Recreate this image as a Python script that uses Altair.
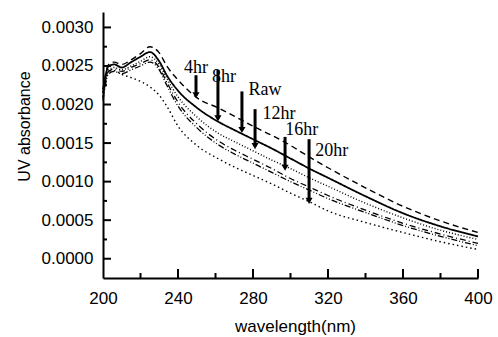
import altair as alt
import pandas as pd

# wavelength grid (nm)
wl = [200, 203, 206, 210, 215, 220, 225, 230, 234, 240, 250, 262, 270, 280,
      290, 300, 310, 320, 340, 360, 380, 400]

# UV absorbance series
abs_4hr = [0.0022, 0.00252, 0.00255, 0.00252, 0.00258, 0.00266, 0.00275, 0.00267,
           0.00250, 0.00232, 0.00209, 0.00195, 0.00185, 0.00172, 0.00160, 0.00147,
           0.00132, 0.00118, 0.00092, 0.00068, 0.00049, 0.00034]
abs_8hr = [0.00215, 0.0025, 0.00252, 0.00248, 0.00255, 0.00262, 0.00268, 0.00256,
           0.00238, 0.00218, 0.00196, 0.00177, 0.00167, 0.00155, 0.00143, 0.00130,
           0.00117, 0.00105, 0.00081, 0.00059, 0.00042, 0.00029]
abs_raw = [0.0021, 0.00245, 0.00248, 0.00245, 0.0025, 0.00256, 0.00262, 0.00252,
           0.00234, 0.00210, 0.00184, 0.00162, 0.00152, 0.0014, 0.00128, 0.00117,
           0.00105, 0.00094, 0.00072, 0.00053, 0.00037, 0.00025]
abs_12hr = [0.00208, 0.00243, 0.00246, 0.00243, 0.00248, 0.00253, 0.00258, 0.00248,
            0.00229, 0.00203, 0.00175, 0.00152, 0.00141, 0.00129, 0.00117, 0.00104,
            0.00093, 0.00082, 0.00063, 0.00046, 0.00032, 0.0002]
abs_16hr = [0.00205, 0.0024, 0.00243, 0.0024, 0.00245, 0.0025, 0.00255, 0.00245,
            0.00225, 0.00198, 0.0017, 0.00147, 0.00136, 0.00124, 0.00112, 0.001,
            0.00089, 0.00078, 0.0006, 0.00043, 0.00029, 0.00017]
abs_20hr = [0.0021, 0.00243, 0.00244, 0.00239, 0.00235, 0.00230, 0.00223, 0.00212,
            0.00198, 0.00172, 0.00147, 0.00129, 0.00119, 0.00108, 0.00097, 0.00085,
            0.00074, 0.00062, 0.00047, 0.00034, 0.00022, 0.00012]

series_names = ["4hr", "8hr", "Raw", "12hr", "16hr", "20hr"]
series_vals = [abs_4hr, abs_8hr, abs_raw, abs_12hr, abs_16hr, abs_20hr]
series_dash = [[6, 4], [1, 0], [1, 2], [6, 3, 1, 3], [6, 2, 1, 2, 1, 2], [1.5, 3]]
series_width = [1.4, 1.8, 1.4, 1.3, 1.3, 1.4]

# annotations: label, arrow x, arrow top, arrow tip, text x, text y
ann_label = ["4hr", "8hr", "Raw", "12hr", "16hr", "20hr"]
ann_x = [249.6, 261.3, 274.1, 281.1, 297.1, 309.9]
ann_top = [0.00238, 0.00245, 0.00217, 0.00194, 0.00158, 0.00155]
ann_tip = [0.00212, 0.00182, 0.00167, 0.00146, 0.00118, 0.00075]
txt_x = [249.6, 264.5, 286.4, 293.9, 306.0, 322.0]
txt_y = [0.00247, 0.00236, 0.00219, 0.00188, 0.00167, 0.00140]

y_major = [0.0, 0.0005, 0.0010, 0.0015, 0.0020, 0.0025, 0.0030]
y_minor = [0.00025, 0.00075, 0.00125, 0.00175, 0.00225, 0.00275]
x_major = [240, 280, 320, 360, 400]
x_minor = [220, 260, 300, 340, 380]

X_DOMAIN = [200, 400]
Y_DOMAIN = [-0.00025, 0.0032]

xs = alt.Scale(domain=X_DOMAIN, nice=False, zero=False)
ys = alt.Scale(domain=Y_DOMAIN, nice=False, zero=False)
xaxis = alt.Axis(values=[200, 240, 280, 320, 360, 400], ticks=False,
                 title="wavelength(nm)", labelPadding=12, labelFlush=False,
                 titleX=192, titleY=48, titleBaseline="middle",
                 titleAnchor="middle", titleAlign="center")
yaxis = alt.Axis(values=y_major, format=".4f", ticks=False,
                 title="UV absorbance", labelPadding=10, labelFlush=False,
                 titleX=-79, titleY=114, titleBaseline="middle",
                 titleAlign="center")


def X(field):
    return alt.X(field, type="quantitative", scale=xs, axis=xaxis, title="wavelength(nm)")


def Y(field):
    return alt.Y(field, type="quantitative", scale=ys, axis=yaxis, title="UV absorbance")


layers = []
for name, vals, dash, sw in zip(series_names, series_vals, series_dash, series_width):
    df = pd.DataFrame({"wl": wl, "a": vals})
    layers.append(
        alt.Chart(df).mark_line(color="black", strokeWidth=sw, strokeDash=dash,
                                interpolate="monotone").encode(x=X("wl"), y=Y("a"))
    )

# inward tick marks
ymaj = pd.DataFrame({"a": y_major})
ymin = pd.DataFrame({"a": y_minor})
xmaj = pd.DataFrame({"wl": x_major})
xmin = pd.DataFrame({"wl": x_minor})
layers.append(alt.Chart(ymaj).mark_rule(color="black", strokeWidth=2).encode(
    y=Y("a"), x=alt.value(0), x2=alt.value(8)))
layers.append(alt.Chart(ymin).mark_rule(color="black", strokeWidth=2).encode(
    y=Y("a"), x=alt.value(0), x2=alt.value(4)))
layers.append(alt.Chart(xmaj).mark_rule(color="black", strokeWidth=2).encode(
    x=X("wl"), y=alt.value(266), y2=alt.value(257)))
layers.append(alt.Chart(xmin).mark_rule(color="black", strokeWidth=2).encode(
    x=X("wl"), y=alt.value(266), y2=alt.value(261)))

# arrows and labels
ann = pd.DataFrame({"label": ann_label, "wl": ann_x, "a": ann_top, "tip": ann_tip,
                    "tx": txt_x, "ty": txt_y})
layers.append(alt.Chart(ann).mark_rule(color="black", strokeWidth=3).encode(
    x=X("wl"), y=Y("a"), y2="tip:Q"))
layers.append(alt.Chart(ann).mark_point(shape="triangle-down", filled=True, color="black",
                                        size=50, opacity=1).encode(
    x=X("wl"), y=Y("tip")))
layers.append(alt.Chart(ann).mark_text(font="Liberation Serif", fontSize=18,
                                       color="black", baseline="middle",
                                       align="center").encode(
    x=X("tx"), y=Y("ty"), text="label:N"))

chart = alt.layer(*layers).properties(
    width=375, height=266,
    autosize=alt.AutoSizeParams(type="none"),
    padding={"left": 103, "top": 12, "right": 20, "bottom": 59},
    background="white",
).configure_view(stroke=None).configure_axis(
    domainColor="black", domainWidth=2, grid=False,
    labelFont="Liberation Sans", labelFontSize=17, labelColor="black",
    titleFont="Liberation Sans", titleFontSize=17, titleColor="black",
    titleFontWeight="normal",
).configure_axisY(titleFontSize=16)

chart.save("out.html", embed_options={"renderer": "svg", "actions": False})
